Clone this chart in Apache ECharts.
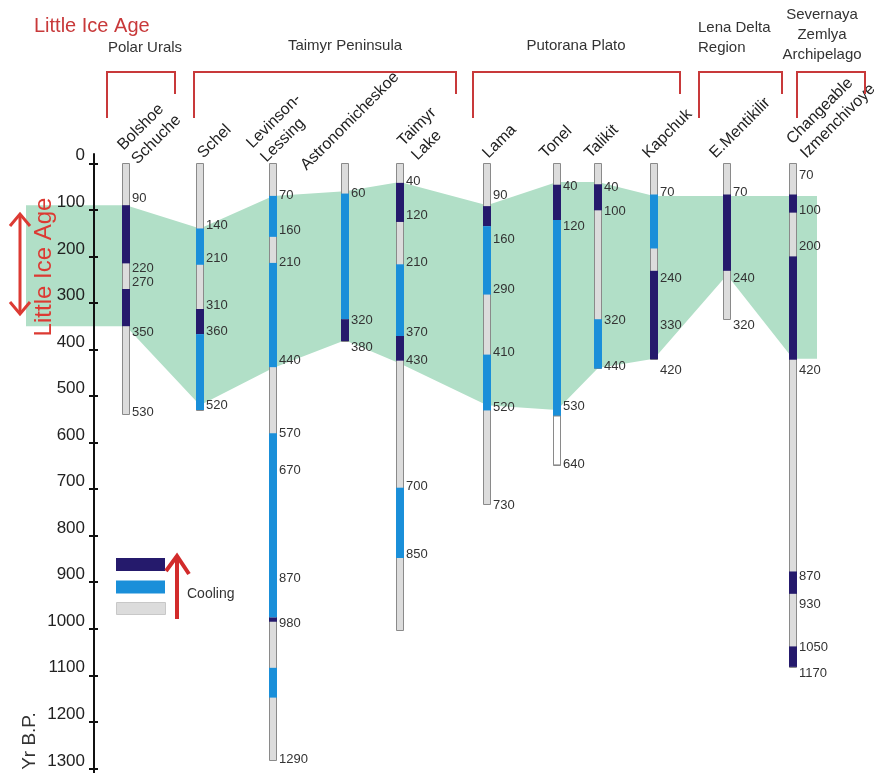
<!DOCTYPE html>
<html>
<head>
<meta charset="utf-8">
<title>Little Ice Age</title>
<script src="https://cdn.jsdelivr.net/npm/echarts@6.0.0/dist/echarts.min.js"></script>
<style>
  html, body { margin: 0; padding: 0; background: #fff; }
  #main { width: 874px; height: 773px; }
</style>
</head>
<body>
<div id="main"></div>
<script>
// ---- data (years B.P.) ----
var columns = ['Bolshoe\nSchuche', 'Schel', 'Levinson-\nLessing', 'Astronomicheskoe', 'Taimyr\nLake',
  'Lama', 'Tonel', 'Talikit', 'Kapchuk', 'E.Mentikilir', 'Changeable\nIzmenchivoye'];
var regions = ['Polar Urals', 'Taimyr Peninsula', 'Putorana Plato', 'Lena Delta\nRegion', 'Severnaya\nZemlya\nArchipelago'];
var yearTicks = [0, 100, 200, 300, 400, 500, 600, 700, 800, 900, 1000, 1100, 1200, 1300];

// segments: [from, to, kind]  d = coldest, b = cool, g = other, w = no data
var bolshoeSchuche = [[0, 90, 'g'], [90, 215, 'd'], [215, 270, 'g'], [270, 350, 'd'], [350, 540, 'g']];
var schel = [[0, 140, 'g'], [140, 218, 'b'], [218, 313, 'g'], [313, 367, 'd'], [367, 530, 'b']];
var levinsonLessing = [[0, 70, 'g'], [70, 158, 'b'], [158, 214, 'g'], [214, 438, 'b'], [438, 580, 'g'],
  [580, 976, 'b'], [976, 985, 'd'], [985, 1084, 'g'], [1084, 1148, 'b'], [1148, 1282, 'g']];
var astronomicheskoe = [[0, 65, 'g'], [65, 335, 'b'], [335, 382, 'd']];
var taimyrLake = [[0, 42, 'g'], [42, 126, 'd'], [126, 217, 'g'], [217, 371, 'b'], [371, 424, 'd'],
  [424, 697, 'g'], [697, 848, 'b'], [848, 1004, 'g']];
var lama = [[0, 92, 'g'], [92, 135, 'd'], [135, 282, 'b'], [282, 411, 'g'], [411, 531, 'b'], [531, 732, 'g']];
var tonel = [[0, 46, 'g'], [46, 122, 'd'], [122, 543, 'b'], [543, 648, 'w']];
var talikit = [[0, 45, 'g'], [45, 101, 'd'], [101, 335, 'g'], [335, 441, 'b']];
var kapchuk = [[0, 67, 'g'], [67, 183, 'b'], [183, 231, 'g'], [231, 421, 'd']];
var eMentikilir = [[0, 67, 'g'], [67, 231, 'd'], [231, 336, 'g']];
var changeable = [[0, 67, 'g'], [67, 106, 'd'], [106, 200, 'g'], [200, 422, 'd'], [422, 877, 'g'],
  [877, 925, 'd'], [925, 1038, 'g'], [1038, 1082, 'd']];

// labels: [text, year where it is printed]
var bolshoeLabels = [['90', 76], ['220', 226], ['270', 257], ['350', 364], ['530', 536]];
var schelLabels = [['140', 133], ['210', 205], ['310', 305], ['360', 362], ['520', 521]];
var levinsonLabels = [['70', 69], ['160', 145], ['210', 213], ['440', 424], ['570', 580], ['670', 659],
  ['870', 891], ['980', 988], ['1290', 1280]];
var astroLabels = [['60', 65], ['320', 338], ['380', 396]];
var taimyrLabels = [['40', 38], ['120', 113], ['210', 213], ['370', 364], ['430', 424], ['700', 694], ['850', 841]];
var lamaLabels = [['90', 69], ['160', 163], ['290', 272], ['410', 406], ['520', 525], ['730', 736]];
var tonelLabels = [['40', 49], ['120', 135], ['530', 523], ['640', 648]];
var talikitLabels = [['40', 51], ['100', 103], ['320', 337], ['440', 437]];
var kapchukLabels = [['70', 62], ['240', 247], ['330', 348], ['420', 444]];
var eMentLabels = [['70', 62], ['240', 247], ['320', 349]];
var changeableLabels = [['70', 27], ['100', 102], ['200', 178], ['420', 444], ['870', 888], ['930', 948],
  ['1050', 1041], ['1170', 1095]];

// Little Ice Age band, top and bottom per column
var liaTop = [90, 140, 70, 60, 40, 90, 40, 40, 70, 70, 70];
var liaBottom = [350, 520, 440, 380, 430, 520, 530, 440, 420, 240, 420];

// ---- layout ----
var colX = [126, 200, 273, 345, 400, 487, 557, 598, 654, 727, 793];
// where each rotated column name starts, relative to the top of its core (px)
var nameShift = [[13, 6], [5, 0], [-5, 4], [-37, 12], [19, 2], [3, 0], [-10, 0], [-6, 0], [-4, 0], [-10, 0], [15, 0]];
var bandLeft = 26, bandRight = 817;
var FONT = '"Liberation Sans", Arial, sans-serif';
var fills = { g: '#dcdcdc', b: '#1a8fd9', d: '#251a6c', w: '#ffffff' };

var segs = [bolshoeSchuche, schel, levinsonLessing, astronomicheskoe, taimyrLake, lama, tonel, talikit, kapchuk, eMentikilir, changeable];
var labs = [bolshoeLabels, schelLabels, levinsonLabels, astroLabels, taimyrLabels, lamaLabels, tonelLabels,
  talikitLabels, kapchukLabels, eMentLabels, changeableLabels];

var colData = columns.map(function (c, i) { return [colX[i], i]; });

function renderBand(params, api) {
  var pts = [api.coord([bandLeft, liaTop[0]])];
  for (var i = 0; i < colX.length; i++) pts.push(api.coord([colX[i], liaTop[i]]));
  pts.push(api.coord([bandRight, liaTop[liaTop.length - 1]]));
  pts.push(api.coord([bandRight, liaBottom[liaBottom.length - 1]]));
  for (var j = colX.length - 1; j >= 0; j--) pts.push(api.coord([colX[j], liaBottom[j]]));
  pts.push(api.coord([bandLeft, liaBottom[0]]));
  return { type: 'polygon', shape: { points: pts }, style: { fill: '#b1dfc7' } };
}

function renderBar(params, api) {
  var i = api.value(1);
  var s = segs[i];
  var top = api.coord([colX[i], 0]);
  var bot = api.coord([colX[i], s[s.length - 1][1]]);
  var cx = Math.round(top[0]);
  var children = [{
    type: 'rect',
    shape: { x: cx - 3.5, y: Math.round(top[1]) + 0.5, width: 7, height: Math.round(bot[1] - top[1]) },
    style: { fill: fills.g, stroke: '#8a8a8a', lineWidth: 1 }
  }];
  s.forEach(function (seg) {
    if (seg[2] === 'g') return;
    var a = api.coord([colX[i], seg[0]]), b = api.coord([colX[i], seg[1]]);
    var el = {
      type: 'rect',
      shape: { x: cx - 4, y: a[1], width: 8, height: b[1] - a[1] },
      style: { fill: fills[seg[2]] }
    };
    if (seg[2] === 'w') {
      el.shape = { x: cx - 3.5, y: a[1], width: 7, height: b[1] - a[1] };
      el.style.stroke = '#8a8a8a';
      el.style.lineWidth = 1;
    }
    children.push(el);
  });
  return { type: 'group', children: children };
}

function renderLabels(params, api) {
  var i = api.value(1);
  var top = api.coord([colX[i], 0]);
  var children = labs[i].map(function (l) {
    var p = api.coord([colX[i], l[1]]);
    return {
      type: 'text', x: top[0] + 6, y: p[1],
      style: { text: l[0], fontSize: 13, fontFamily: FONT, fill: '#333', align: 'left', verticalAlign: 'middle' }
    };
  });
  // column name, rotated 45 degrees
  children.push({
    type: 'text', x: top[0] + nameShift[i][0] + 2.5, y: top[1] - 0.5 + nameShift[i][1], rotation: Math.PI / 4,
    style: { text: columns[i], fontSize: 16, fontFamily: FONT, fill: '#222', align: 'left', verticalAlign: 'bottom', lineHeight: 20 }
  });
  return { type: 'group', children: children };
}

var red = '#c8393a';
var brackets = [
  [[107, 118], [107, 72], [175, 72], [175, 94]],
  [[194, 118], [194, 72], [456, 72], [456, 94]],
  [[473, 118], [473, 72], [680, 72], [680, 94]],
  [[699, 118], [699, 72], [782, 72], [782, 94]],
  [[797, 118], [797, 72], [865, 72], [865, 94]]
];
var regionPos = [[145, 48, 'center'], [345, 46, 'center'], [576, 46, 'center'], [698, 38, 'left'], [822, 35, 'center']];

var graphics = [];
brackets.forEach(function (b) {
  graphics.push({ type: 'polyline', shape: { points: b }, style: { stroke: red, lineWidth: 2, fill: null }, z: 10 });
});
regions.forEach(function (r, i) {
  graphics.push({
    type: 'text', x: regionPos[i][0], y: regionPos[i][1],
    style: { text: r, fontSize: 15, fontFamily: FONT, fill: '#333', align: regionPos[i][2], verticalAlign: 'middle', lineHeight: 20 }
  });
});
graphics.push(
  { type: 'text', x: 34, y: 26, style: { text: 'Little Ice Age', fontSize: 20, fontFamily: FONT, fill: red, verticalAlign: 'middle' } },
  { type: 'text', x: 44, y: 267, rotation: Math.PI / 2,
    style: { text: 'Little Ice Age', fontSize: 24, fontFamily: FONT, fill: '#dc3a33', align: 'center', verticalAlign: 'middle' }, z: 10 },
  { type: 'polyline', shape: { points: [[20, 214], [20, 314]] }, style: { stroke: '#dc3a33', lineWidth: 3 }, z: 10 },
  { type: 'polyline', shape: { points: [[10, 226], [20, 214], [30, 226]] }, style: { stroke: '#dc3a33', lineWidth: 3, fill: null }, z: 10 },
  { type: 'polyline', shape: { points: [[10, 302], [20, 314], [30, 302]] }, style: { stroke: '#dc3a33', lineWidth: 3, fill: null }, z: 10 },
  { type: 'text', x: 30, y: 741, rotation: Math.PI / 2,
    style: { text: 'Yr B.P.', fontSize: 19, fontFamily: FONT, fill: '#333', align: 'center', verticalAlign: 'middle' } },
  // legend
  { type: 'rect', shape: { x: 116, y: 558, width: 49, height: 13 }, style: { fill: fills.d } },
  { type: 'rect', shape: { x: 116, y: 580.5, width: 49, height: 13 }, style: { fill: fills.b } },
  { type: 'rect', shape: { x: 116.5, y: 602.5, width: 49, height: 12 }, style: { fill: fills.g, stroke: '#c8c8c8', lineWidth: 1 } },
  { type: 'polyline', shape: { points: [[177, 619], [177, 556]] }, style: { stroke: '#d22b2b', lineWidth: 4 } },
  { type: 'polyline', shape: { points: [[166, 571], [177, 556], [189, 574]] }, style: { stroke: '#d22b2b', lineWidth: 4, fill: null } },
  { type: 'text', x: 187, y: 594, style: { text: 'Cooling', fontSize: 14, fontFamily: FONT, fill: '#333', verticalAlign: 'middle' } }
);

var yAxisBase = {
  type: 'value', inverse: true, min: -20, max: 1310, position: 'left', z: 5,
  splitLine: { show: false }
};

var myChart = echarts.init(document.getElementById('main'), null, { renderer: 'canvas' });
var option = {
  animation: false,
  backgroundColor: '#fff',
  grid: { left: 94, width: 780, top: 154, height: 619, containLabel: false, outerBoundsMode: 'none' },
  xAxis: { type: 'value', min: 94, max: 874, show: false },
  yAxis: [
    Object.assign({}, yAxisBase, {
      axisLine: { show: true, lineStyle: { color: '#111', width: 2 } },
      axisTick: { show: true, length: 5, customValues: yearTicks, lineStyle: { color: '#111', width: 2 } },
      axisLabel: {
        customValues: yearTicks, fontSize: 17, fontFamily: FONT, color: '#222', margin: 9,
        verticalAlign: 'bottom', lineHeight: 15,
        formatter: function (v) { return String(v); }
      }
    }),
    Object.assign({}, yAxisBase, {
      axisLine: { show: false },
      axisTick: { show: true, inside: true, length: 4, customValues: yearTicks, lineStyle: { color: '#111', width: 2 } },
      axisLabel: { show: false }
    })
  ],
  graphic: graphics,
  series: [
    { type: 'custom', name: 'band', renderItem: renderBand, data: [[0, 0]], z: 1, silent: true },
    { type: 'custom', name: 'cores', renderItem: renderBar, data: colData, z: 2, encode: { x: 0, y: -1 } },
    { type: 'custom', name: 'labels', renderItem: renderLabels, data: colData, z: 3, encode: { x: 0, y: -1 } }
  ]
};
myChart.setOption(option);
</script>
</body>
</html>
